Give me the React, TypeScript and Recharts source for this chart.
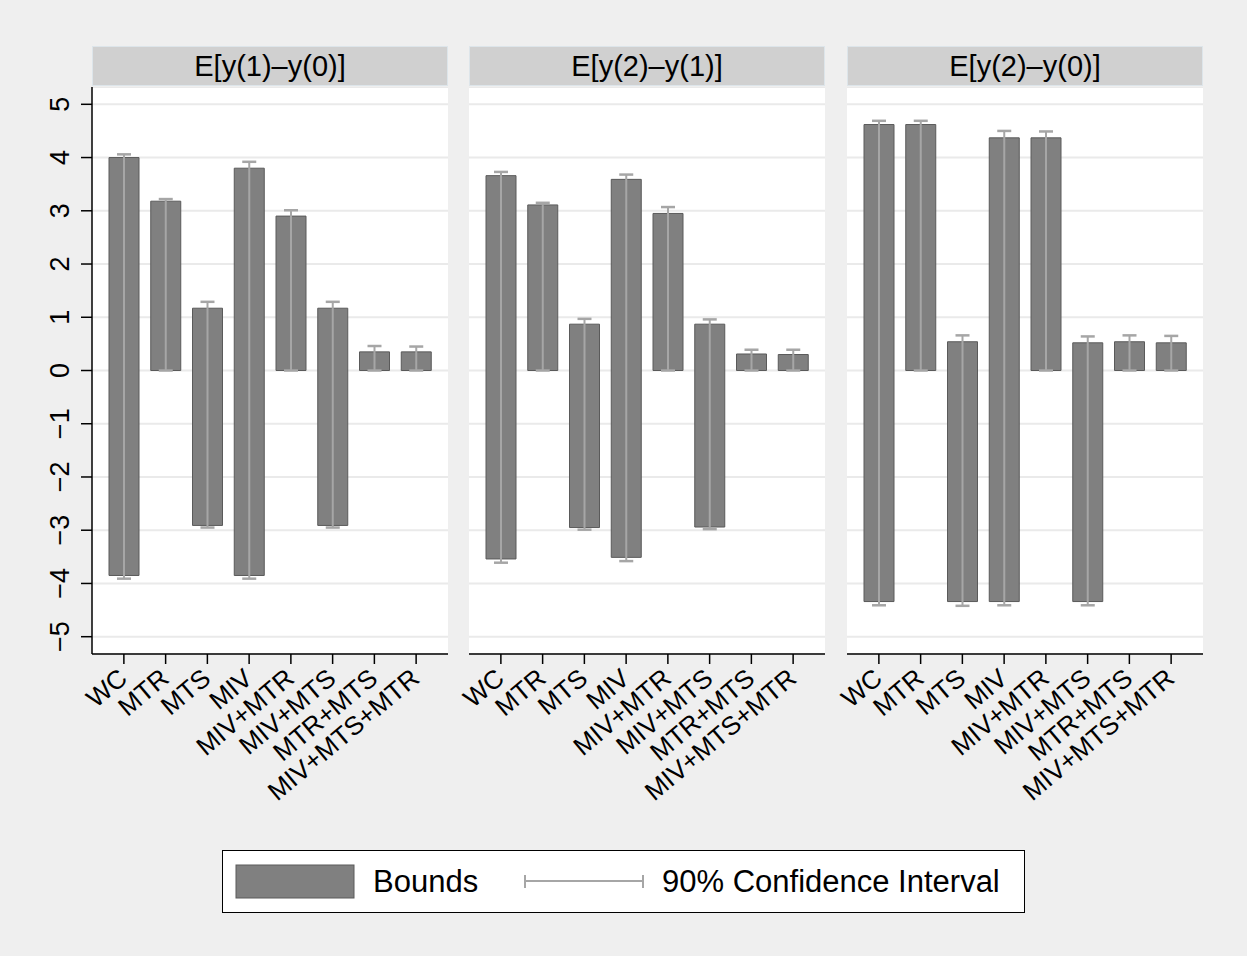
import { Bar, BarChart, CartesianGrid, XAxis, YAxis } from "recharts";

const categories = ["WC", "MTR", "MTS", "MIV", "MIV+MTR", "MIV+MTS", "MTR+MTS", "MIV+MTS+MTR"];
const panelTitles = ["E[y(1)–y(0)]", "E[y(2)–y(1)]", "E[y(2)–y(0)]"];
const yTicks = [-5, -4, -3, -2, -1, 0, 1, 2, 3, 4, 5];

// E[y(1)-y(0)]
const lower10 = [-3.85, 0, -2.91, -3.85, 0, -2.91, 0, 0];
const upper10 = [4.0, 3.18, 1.17, 3.8, 2.9, 1.17, 0.35, 0.35];
const ciLow10 = [-3.91, 0, -2.95, -3.91, 0, -2.95, 0, 0];
const ciHigh10 = [4.06, 3.22, 1.29, 3.92, 3.01, 1.29, 0.46, 0.45];

// E[y(2)-y(1)]
const lower21 = [-3.54, 0, -2.95, -3.51, 0, -2.94, 0, 0];
const upper21 = [3.66, 3.11, 0.87, 3.59, 2.95, 0.87, 0.31, 0.3];
const ciLow21 = [-3.61, 0, -2.99, -3.58, 0, -2.98, 0, 0];
const ciHigh21 = [3.73, 3.15, 0.97, 3.68, 3.07, 0.96, 0.39, 0.39];

// E[y(2)-y(0)]
const lower20 = [-4.34, 0, -4.34, -4.34, 0, -4.34, 0, 0];
const upper20 = [4.62, 4.62, 0.54, 4.37, 4.37, 0.52, 0.54, 0.52];
const ciLow20 = [-4.41, 0, -4.42, -4.41, 0, -4.41, 0, 0];
const ciHigh20 = [4.69, 4.69, 0.66, 4.5, 4.49, 0.64, 0.66, 0.65];

const FONT = '"Liberation Sans", Arial, sans-serif';
const BAR_FILL = "#808080";
const BAR_STROKE = "#5a5a5a";
const CI_COLOR = "#a6a6a6";

function buildRows(lo: number[], hi: number[], cLo: number[], cHi: number[]) {
  return categories.map((name, i) => ({
    name,
    bounds: [lo[i], hi[i]],
    ci: [cLo[i], cHi[i]],
  }));
}

const panels = [
  buildRows(lower10, upper10, ciLow10, ciHigh10),
  buildRows(lower21, upper21, ciLow21, ciHigh21),
  buildRows(lower20, upper20, ciLow20, ciHigh20),
];

const plotLeft = [92, 469, 847];
const PLOT_W = 356;
const PLOT_TOP = 87;
const PLOT_H = 567;
const XAXIS_H = 175;
const SIDE = 50;

function CiShape(props: any) {
  const { x, y, width, height } = props;
  const cx = x + width / 2;
  const y2 = y + height;
  return (
    <g stroke={CI_COLOR} strokeWidth={2}>
      <line x1={cx} x2={cx} y1={y} y2={y2} />
      <line x1={cx - 7} x2={cx + 7} y1={y} y2={y} strokeWidth={2.5} />
      <line x1={cx - 7} x2={cx + 7} y1={y2} y2={y2} strokeWidth={2.5} />
    </g>
  );
}

function XTick(props: any) {
  const { x, y, payload } = props;
  return (
    <text
      transform={`translate(${x + 5},${y + 17}) rotate(-40)`}
      textAnchor="end"
      fontSize={26}
      fontFamily={FONT}
      fill="#000"
    >
      {payload.value}
    </text>
  );
}

function YTick(props: any) {
  const { x, y, payload } = props;
  const v = payload.value;
  return (
    <text
      transform={`translate(${x - 12},${y}) rotate(-90)`}
      textAnchor="middle"
      fontSize={27}
      fontFamily={FONT}
      fill="#000"
    >
      {v < 0 ? `−${Math.abs(v)}` : v}
    </text>
  );
}

function Panel({ index }: { index: number }) {
  const first = index === 0;
  const yWidth = first ? 92 : 0;
  const marginLeft = first ? 0 : SIDE;
  const left = plotLeft[index] - yWidth - marginLeft;
  const data = panels[index];
  const pad = { left: 11, right: 11 };

  return (
    <>
      <div
        style={{
          position: "absolute",
          left: plotLeft[index],
          top: 46,
          width: PLOT_W,
          height: 40,
          boxSizing: "border-box",
          background: "#d0d0d0",
          border: "1px solid #dde5ea",
          fontFamily: FONT,
          fontSize: 29,
          lineHeight: "38px",
          textAlign: "center",
          color: "#000",
        }}
      >
        {panelTitles[index]}
      </div>
      <div style={{ position: "absolute", left, top: PLOT_TOP }}>
        <BarChart
          width={PLOT_W + yWidth + marginLeft + SIDE}
          height={PLOT_H + XAXIS_H}
          data={data}
          margin={{ top: 0, right: SIDE, bottom: 0, left: marginLeft }}
        >
          <CartesianGrid
            vertical={false}
            stroke="#eaeaea"
            strokeWidth={2}
            fill="#ffffff"
          />
          <XAxis
            xAxisId="main"
            dataKey="name"
            height={XAXIS_H}
            padding={pad}
            interval={0}
            tick={<XTick />}
            tickSize={10}
            tickMargin={0}
            axisLine={{ stroke: "#000", strokeWidth: 1.5 }}
            tickLine={{ stroke: "#000", strokeWidth: 1.5 }}
          />
          <XAxis xAxisId="ci" dataKey="name" hide height={0} padding={pad} />
          <YAxis
            domain={[-5.325, 5.325]}
            ticks={yTicks}
            hide={!first}
            width={yWidth}
            tick={<YTick />}
            tickSize={11}
            tickMargin={0}
            axisLine={{ stroke: "#000", strokeWidth: 1.5 }}
            tickLine={{ stroke: "#000", strokeWidth: 1.5 }}
          />
          <Bar
            xAxisId="main"
            dataKey="bounds"
            barSize={30}
            fill={BAR_FILL}
            stroke={BAR_STROKE}
            strokeWidth={1}
            isAnimationActive={false}
          />
          <Bar
            xAxisId="ci"
            dataKey="ci"
            barSize={30}
            shape={<CiShape />}
            isAnimationActive={false}
          />
        </BarChart>
      </div>
    </>
  );
}

export default function App() {
  return (
    <div
      style={{
        position: "absolute",
        left: 0,
        top: 0,
        width: 1247,
        height: 956,
        background: "#efefef",
        fontFamily: FONT,
      }}
    >
      <Panel index={0} />
      <Panel index={1} />
      <Panel index={2} />

      <div
        style={{
          position: "absolute",
          left: 222,
          top: 850,
          width: 803,
          height: 63,
          boxSizing: "border-box",
          background: "#fff",
          border: "1.5px solid #000",
        }}
      >
        <svg width={800} height={60} style={{ position: "absolute", left: 0, top: 0 }}>
          <rect x={13} y={14} width={118} height={33} fill={BAR_FILL} stroke={BAR_STROKE} strokeWidth={1} />
          <g stroke={CI_COLOR} strokeWidth={2}>
            <line x1={302} x2={420} y1={30} y2={30} />
            <line x1={302} x2={302} y1={24} y2={37} />
            <line x1={420} x2={420} y1={24} y2={37} />
          </g>
          <text x={150} y={41} fontSize={31} fontFamily={FONT} fill="#000">
            Bounds
          </text>
          <text x={439} y={41} fontSize={31} fontFamily={FONT} fill="#000">
            90% Confidence Interval
          </text>
        </svg>
      </div>
    </div>
  );
}
